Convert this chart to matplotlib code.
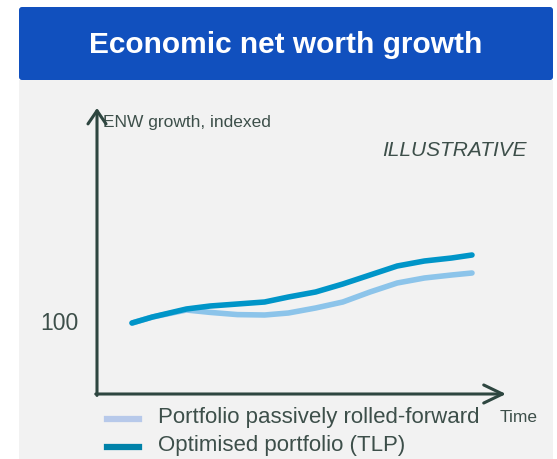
import matplotlib.pyplot as plt
from matplotlib.patches import Rectangle, FancyBboxPatch

# time steps and indexed ENW values for both portfolios
time = [0, 0.6, 1.6, 2.3, 3.1, 3.9, 4.6, 5.4, 6.2, 7.0, 7.8, 8.6, 9.4, 10.0]
passive = [100, 103, 106.5, 105.3, 104.2, 104, 105, 107.5, 110.5, 115.5, 120, 122.5, 124, 125]
optimised = [100, 103, 107, 108.5, 109.5, 110.5, 113, 115.5, 119.5, 124, 128.5, 131, 132.5, 134]

series_labels = ["Portfolio passively rolled-forward", "Optimised portfolio (TLP)"]
line_colors = ["#8cc4ea", "#0095c8"]
legend_colors = ["#b7c9ea", "#0082a9"]
text_color = "#3d4f4a"
axis_color = "#2e4640"
font = "Liberation Sans"

W, H = 557, 459
fig = plt.figure(figsize=(W / 100, H / 100), dpi=100)
fig.patch.set_facecolor("white")

# background panel and title banner, in pixel units
bg = fig.add_axes([0, 0, 1, 1])
bg.set_xlim(0, W)
bg.set_ylim(H, 0)
bg.axis("off")
bg.add_patch(Rectangle((19, 80), 534, 380, color="#f2f2f2", lw=0))
bg.add_patch(FancyBboxPatch((19, 7), 534, 73, boxstyle="round,pad=0,rounding_size=3",
                            color="#1150be", lw=0))
bg.text(286, 45, "Economic net worth growth", color="white", fontsize=21.5,
        fontweight="bold", family=font, ha="center", va="center")

# data axes
x0, x1, y0, y1 = 97, 506, 394, 108
ax = fig.add_axes([x0 / W, 1 - y0 / H, (x1 - x0) / W, (y0 - y1) / H])
ax.set_xlim(-1.03, 11.0)
ax.set_ylim(64.5, 207.5)
ax.patch.set_alpha(0)
for s in ax.spines.values():
    s.set_visible(False)
ax.set_xticks([])
ax.set_yticks([])

ax.plot(time, passive, color=line_colors[0], lw=4, solid_capstyle="round",
        solid_joinstyle="round")
ax.plot(time, optimised, color=line_colors[1], lw=4, solid_capstyle="round",
        solid_joinstyle="round")

# axis arrows
ax.annotate("", xy=(0, 1), xytext=(0, -0.005), xycoords="axes fraction",
            arrowprops=dict(arrowstyle="->,head_length=0.95,head_width=0.65",
                            color=axis_color, lw=2.2, shrinkA=0, shrinkB=0))
ax.annotate("", xy=(1, 0), xytext=(-0.003, 0), xycoords="axes fraction",
            arrowprops=dict(arrowstyle="->,head_length=1.35,head_width=0.65",
                            color=axis_color, lw=2.2, shrinkA=0, shrinkB=0))

# labels
bg.text(103, 122, "ENW growth, indexed", color=text_color, fontsize=12.5,
        family=font, va="center")
bg.text(527, 150, "ILLUSTRATIVE", color=text_color, fontsize=15, style="italic",
        family=font, ha="right", va="center")
bg.text(59, 323, "100", color=text_color, fontsize=16.5, family=font,
        ha="center", va="center")
bg.text(500, 418, "Time", color=text_color, fontsize=12.5, family=font,
        va="center")

# legend
for i, (lab, col) in enumerate(zip(series_labels, legend_colors)):
    y = 419 + i * 28
    bg.plot([107, 139], [y, y], color=col, lw=4.5)
    bg.text(158, y - 1, lab, color=text_color, fontsize=16, family=font,
            va="center")

fig.savefig("out.png", dpi=100)
